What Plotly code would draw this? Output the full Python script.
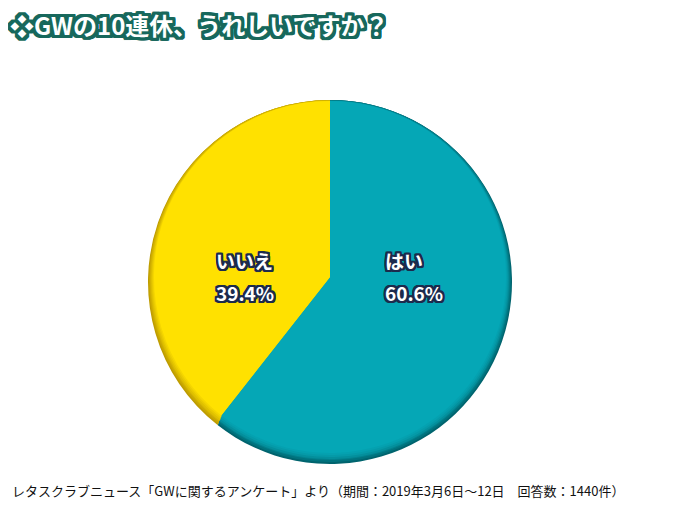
import plotly.graph_objects as go

title_text = "❖GWの10連休、うれしいですか？"
labels = ["はい", "いいえ"]
values = [60.6, 39.4]
colors = ["#05A7B6", "#FFE100"]
source_text = "レタスクラブニュース「GWに関するアンケート」より（期間：2019年3月6日～12日　回答数：1440件）"

# rim shading layers (radius px, centre y px, colours), outer/darkest first
shade_layers = [
    (182, 274, ["#00646E", "#BE9C00"]),
    (181, 273, ["#00737E", "#C9A800"]),
    (180, 272, ["#02818D", "#D4B400"]),
    (179, 272, ["#048F9C", "#DFC000"]),
    (178, 271, ["#059AA8", "#EACB00"]),
    (177, 270, ["#05A1B0", "#F5D600"]),
]

JP = "Noto Sans CJK JP, Noto Sans, sans-serif"
W, H = 680, 510

def outline(color, w):
    offs = []
    for dx in range(-w, w + 1):
        for dy in range(-w, w + 1):
            if dx == 0 and dy == 0:
                continue
            offs.append(f"{dx}px {dy}px 0 {color}")
    return ", ".join(offs)

def domain(cx, cy, r):
    return dict(x=[(cx - 200) / W, (cx + 200) / W],
                y=[(H - cy - r) / H, (H - cy + r) / H])

fig = go.Figure()
for r, cy, cols in shade_layers + [(176, 269, colors)]:
    fig.add_trace(go.Pie(
        labels=labels, values=values, sort=False, direction="clockwise", rotation=0,
        marker=dict(colors=cols, line=dict(width=0)),
        textinfo="none", hoverinfo="label+percent", showlegend=False,
        domain=domain(322, cy, r),
    ))

label_pos = {"はい": (0.552, "left"), "いいえ": (0.3485, "center")}
for lab, val in zip(labels, values):
    x, anchor = label_pos[lab]
    for txt, y in [(lab, 0.504), (f"{val:.1f}%", 0.443)]:
        fig.add_annotation(
            x=x, y=y, xref="paper", yref="paper", xanchor=anchor, yanchor="middle",
            text=txt, showarrow=False,
            font=dict(family=JP, size=19, color="white", weight="bold",
                      shadow=outline("#1C2A4C", 2)),
        )

fig.add_annotation(
    x=0.0, y=0.9667, xref="paper", yref="paper", xanchor="left", yanchor="middle",
    text=title_text, showarrow=False,
    font=dict(family=JP, size=24, color="white", weight="bold",
              shadow=outline("#17685C", 3)),
)
fig.add_annotation(
    x=0.003, y=0.053, xref="paper", yref="paper", xanchor="left", yanchor="middle",
    text=source_text, showarrow=False,
    font=dict(family=JP, size=13, color="#111111"),
)

fig.update_layout(
    width=W, height=H,
    margin=dict(l=0, r=0, t=0, b=0),
    paper_bgcolor="white", plot_bgcolor="white",
)
fig.write_html("out.html")
